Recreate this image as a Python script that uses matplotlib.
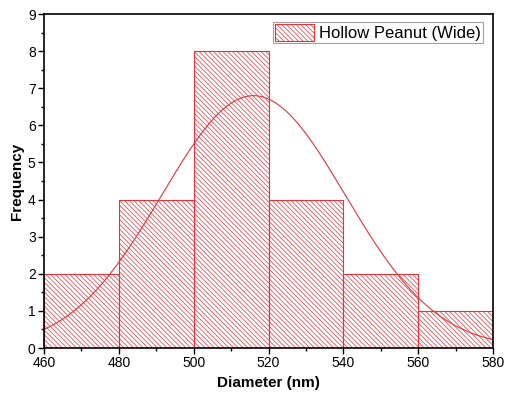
import numpy as np
import matplotlib
matplotlib.use("Agg")
import matplotlib.pyplot as plt
from matplotlib.ticker import MultipleLocator

plt.rcParams['font.family'] = ['Liberation Sans', 'DejaVu Sans']
red = '#E3343C'
plt.rcParams['hatch.linewidth'] = 0.5
plt.rcParams['hatch.color'] = red

bin_edges = [460, 480, 500, 520, 540, 560, 580]
counts = [2, 4, 8, 4, 2, 1]
label = "Hollow Peanut (Wide)"
# Gaussian fit parameters
fit_amp = 6.8
fit_mean = 516
fit_sigma = 24.5

fig = plt.figure(figsize=(5.08, 3.98), dpi=100)
ax = fig.add_axes([0.0866, 0.1256, 0.9705 - 0.0866, 0.9648 - 0.1256])

lefts = bin_edges[:-1]
widths = np.diff(bin_edges)
bars = ax.bar(lefts, counts, width=widths, align='edge', facecolor='none',
              edgecolor=red, hatch='\\' * 7, linewidth=0.8, label=label)
for p in bars:
    if hasattr(p, 'set_hatchcolor'):
        p.set_hatchcolor(red)
    else:
        p._hatch_color = matplotlib.colors.to_rgba(red)

xs = np.linspace(bin_edges[0], bin_edges[-1], 400)
ys = fit_amp * np.exp(-(xs - fit_mean) ** 2 / (2 * fit_sigma ** 2))
ax.plot(xs, ys, color=red, linewidth=0.8)

ax.set_xlim(460, 580)
ax.set_ylim(0, 9)
ax.xaxis.set_major_locator(MultipleLocator(20))
ax.xaxis.set_minor_locator(MultipleLocator(10))
ax.yaxis.set_major_locator(MultipleLocator(1))
ax.yaxis.set_minor_locator(MultipleLocator(0.5))
ax.tick_params(which='major', direction='out', length=4, width=1, labelsize=10, pad=2)
ax.tick_params(which='minor', direction='out', length=2.5, width=1)
ax.tick_params(top=False, right=False)
for s in ax.spines.values():
    s.set_linewidth(1.2)

ax.set_xlabel('Diameter (nm)', fontsize=11, fontweight='bold', labelpad=4)
ax.set_ylabel('Frequency', fontsize=11, fontweight='bold', labelpad=3)

leg = ax.legend(loc='upper right', bbox_to_anchor=(0.978, 0.976), fontsize=12,
                frameon=True, fancybox=False, edgecolor='#888888',
                borderpad=0.12, handlelength=2.35, handleheight=1.2,
                handletextpad=0.3, borderaxespad=0.0)
leg.get_frame().set_linewidth(0.8)
for h in leg.legend_handles:
    if hasattr(h, 'set_hatchcolor'):
        h.set_hatchcolor(red)
    else:
        h._hatch_color = matplotlib.colors.to_rgba(red)

fig.savefig('out.png', dpi=100)
